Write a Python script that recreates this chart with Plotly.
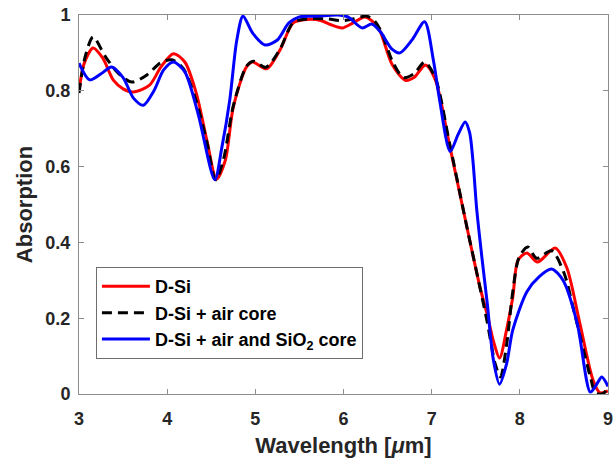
import plotly.graph_objects as go

# Absorption spectra of the three structures (wavelength in µm)
x_dsi = [3.00, 3.06, 3.16, 3.27, 3.39, 3.50, 3.62, 3.80, 3.93, 4.07, 4.20, 4.33, 4.45,
         4.56, 4.66, 4.75, 4.90, 4.97, 5.13, 5.28, 5.43, 5.58, 5.75, 5.85, 5.99, 6.10,
         6.24, 6.32, 6.41, 6.55, 6.70, 6.80, 6.93, 7.04, 7.20, 7.40, 7.55, 7.63, 7.70,
         7.77, 7.85, 7.92, 7.98, 8.08, 8.20, 8.40, 8.53, 8.68, 8.83, 8.91, 9.00]
y_dsi = [0.800, 0.873, 0.913, 0.886, 0.828, 0.805, 0.797, 0.815, 0.863, 0.898, 0.876,
         0.794, 0.670, 0.567, 0.617, 0.757, 0.863, 0.876, 0.858, 0.908, 0.979, 0.988,
         0.985, 0.975, 0.966, 0.978, 0.995, 0.985, 0.960, 0.870, 0.828, 0.835, 0.868,
         0.830, 0.660, 0.440, 0.280, 0.210, 0.140, 0.095, 0.170, 0.256, 0.353, 0.372,
         0.348, 0.385, 0.335, 0.187, 0.037, 0.003, 0.008]

x_air = [3.00, 3.07, 3.16, 3.30, 3.45, 3.60, 3.77, 3.92, 4.05, 4.18, 4.32, 4.45, 4.55,
         4.64, 4.75, 4.90, 4.98, 5.12, 5.28, 5.43, 5.60, 5.80, 6.00, 6.12, 6.26, 6.35,
         6.43, 6.56, 6.68, 6.80, 6.92, 7.04, 7.20, 7.40, 7.53, 7.63, 7.72, 7.78, 7.85,
         7.92, 7.99, 8.09, 8.19, 8.36, 8.50, 8.62, 8.80, 8.86, 8.95, 9.00]
y_air = [0.794, 0.890, 0.942, 0.890, 0.845, 0.823, 0.842, 0.873, 0.882, 0.860, 0.780,
         0.665, 0.565, 0.620, 0.760, 0.865, 0.878, 0.862, 0.910, 0.980, 0.990, 0.990,
         0.985, 0.990, 0.997, 0.985, 0.955, 0.875, 0.835, 0.845, 0.876, 0.835, 0.665,
         0.440, 0.300, 0.190, 0.080, 0.045, 0.130, 0.270, 0.360, 0.388, 0.358, 0.378,
         0.320, 0.213, 0.045, 0.002, 0.002, 0.020]

x_sio2 = [3.00, 3.12, 3.25, 3.37, 3.50, 3.62, 3.73, 3.85, 3.96, 4.07, 4.20, 4.35, 4.54,
          4.62, 4.71, 4.79, 4.86, 4.97, 5.11, 5.25, 5.38, 5.50, 5.70, 5.93, 6.05, 6.21,
          6.32, 6.42, 6.55, 6.64, 6.78, 6.92, 7.02, 7.09, 7.21, 7.30, 7.38, 7.43, 7.47,
          7.51, 7.57, 7.63, 7.70, 7.77, 7.85, 7.92, 8.08, 8.22, 8.36, 8.49, 8.65, 8.80,
          8.87, 8.93, 9.00]
y_sio2 = [0.873, 0.829, 0.845, 0.863, 0.835, 0.780, 0.762, 0.800, 0.855, 0.876, 0.850,
          0.740, 0.565, 0.650, 0.776, 0.934, 0.997, 0.952, 0.921, 0.934, 0.979, 0.995,
          0.997, 1.000, 0.995, 0.966, 0.976, 0.955, 0.910, 0.900, 0.935, 0.982, 0.880,
          0.776, 0.640, 0.685, 0.718, 0.690, 0.610, 0.490, 0.360, 0.240, 0.090, 0.026,
          0.080, 0.169, 0.270, 0.310, 0.330, 0.300, 0.187, 0.005, 0.025, 0.045, 0.020]

series = [
    ("D-Si", x_dsi, y_dsi, "#ff0000", "solid"),
    ("D-Si + air core", x_air, y_air, "#000000", "10px,6px"),
    ("D-Si + air and SiO<sub>2</sub> core", x_sio2, y_sio2, "#0000ff", "solid"),
]

FONT = "Liberation Sans, Arial, sans-serif"

fig = go.Figure()
for name, xs, ys, color, dash in series:
    fig.add_trace(go.Scatter(
        x=xs, y=ys, mode="lines", name=f"<b>{name}</b>",
        line=dict(color=color, width=3, dash=dash, shape="spline", smoothing=0.8),
    ))

axis_common = dict(
    showline=True, linecolor="#8c8c8c", linewidth=1, mirror="ticks",
    ticks="inside", ticklen=5, tickcolor="#8c8c8c", showgrid=False, zeroline=False,
    tickfont=dict(family=FONT, size=18, color="#262626", weight="bold"),
    ticklabeloverflow="allow",
    automargin=False,
)

fig.update_layout(
    width=613, height=460,
    margin=dict(l=79, r=5, t=15, b=66),
    paper_bgcolor="white", plot_bgcolor="white",
    xaxis=dict(range=[3, 9], tickvals=[3, 4, 5, 6, 7, 8, 9], ticklabelstandoff=8,
               title=dict(text="<b>Wavelength [<i>μ</i>m]</b>", standoff=10,
                          font=dict(family=FONT, size=22, color="#262626")),
               **axis_common),
    yaxis=dict(range=[0, 1], tickvals=[0, 0.2, 0.4, 0.6, 0.8, 1], ticklabelstandoff=4,
               title=dict(text="<b>Absorption</b>", standoff=6,
                          font=dict(family=FONT, size=22, color="#262626")),
               **axis_common),
    legend=dict(x=0.032, y=0.335, xanchor="left", yanchor="top",
                bgcolor="white", bordercolor="#6e6e6e", borderwidth=1,
                font=dict(family=FONT, size=18, color="#000000"),
                tracegroupgap=0, itemwidth=48),
    showlegend=True,
)

fig.write_html("out.html")
